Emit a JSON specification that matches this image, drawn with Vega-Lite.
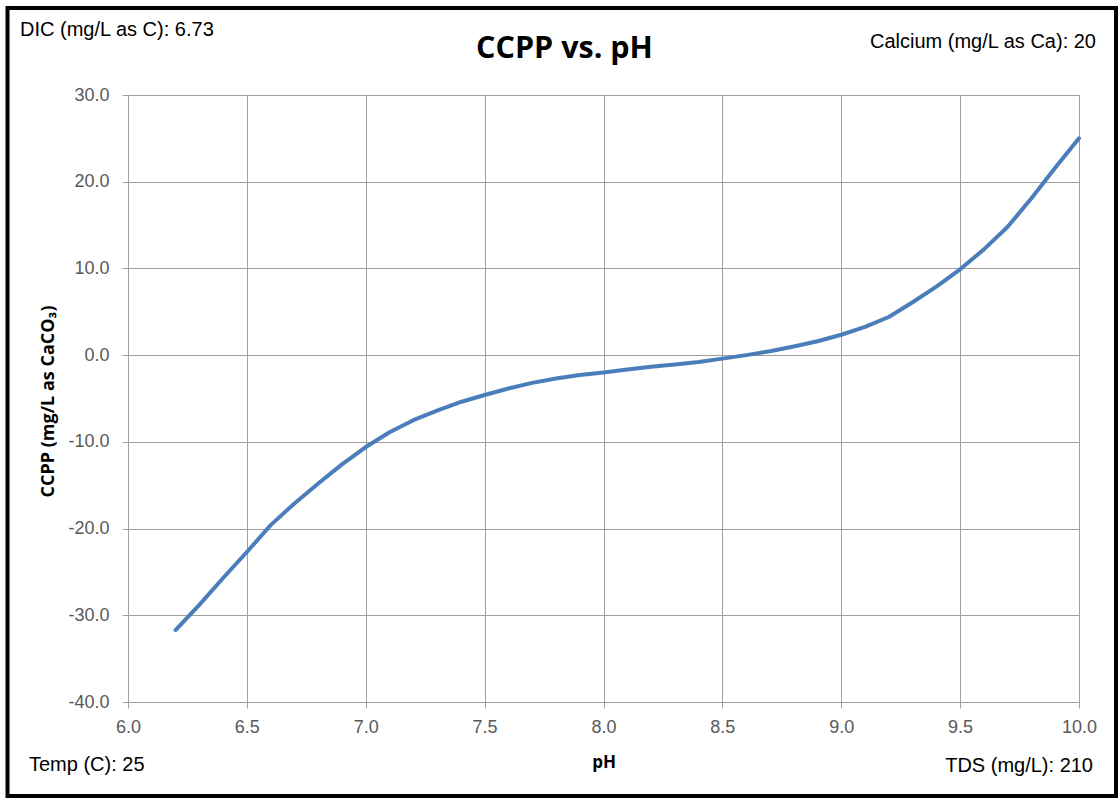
{
  "$schema": "https://vega.github.io/schema/vega-lite/v6.json",
  "width": 951,
  "height": 607,
  "autosize": {"type": "none"},
  "padding": {"left": 128, "top": 95, "right": 40, "bottom": 96},
  "background": "white",
  "title": {
    "text": "CCPP vs. pH",
    "font": "Open Sans",
    "fontSize": 30.5,
    "fontWeight": "bold",
    "color": "#000000",
    "anchor": "middle",
    "frame": "group",
    "dx": -39,
    "baseline": "alphabetic",
    "offset": -83
  },
  "config": {
    "view": {"stroke": null},
    "axis": {
      "gridColor": "#a0a0a0",
      "gridWidth": 1,
      "gridOpacity": 1,
      "domainColor": "#a0a0a0",
      "domainWidth": 1,
      "tickColor": "#a0a0a0",
      "tickSize": 6,
      "labelFont": "Liberation Sans",
      "labelFontSize": 18,
      "labelColor": "#595959",
      "titleFont": "Open Sans",
      "titleFontWeight": "bold",
      "titleColor": "#000000"
    }
  },
  "data": {
    "values": [
      {"pH": 6.2, "CCPP": -31.7},
      {"pH": 6.3, "CCPP": -28.8},
      {"pH": 6.4, "CCPP": -25.7},
      {"pH": 6.5, "CCPP": -22.7},
      {"pH": 6.6, "CCPP": -19.6},
      {"pH": 6.7, "CCPP": -17.1},
      {"pH": 6.8, "CCPP": -14.8},
      {"pH": 6.9, "CCPP": -12.6},
      {"pH": 7.0, "CCPP": -10.6},
      {"pH": 7.1, "CCPP": -8.9},
      {"pH": 7.2, "CCPP": -7.5},
      {"pH": 7.3, "CCPP": -6.4},
      {"pH": 7.4, "CCPP": -5.4},
      {"pH": 7.5, "CCPP": -4.6},
      {"pH": 7.6, "CCPP": -3.85},
      {"pH": 7.7, "CCPP": -3.2},
      {"pH": 7.8, "CCPP": -2.7},
      {"pH": 7.9, "CCPP": -2.3},
      {"pH": 8.0, "CCPP": -2.0},
      {"pH": 8.1, "CCPP": -1.65},
      {"pH": 8.2, "CCPP": -1.35},
      {"pH": 8.3, "CCPP": -1.07},
      {"pH": 8.4, "CCPP": -0.8},
      {"pH": 8.5, "CCPP": -0.4},
      {"pH": 8.6, "CCPP": 0.0},
      {"pH": 8.7, "CCPP": 0.45},
      {"pH": 8.8, "CCPP": 1.0},
      {"pH": 8.9, "CCPP": 1.6},
      {"pH": 9.0, "CCPP": 2.35},
      {"pH": 9.1, "CCPP": 3.25},
      {"pH": 9.2, "CCPP": 4.4},
      {"pH": 9.3, "CCPP": 6.1},
      {"pH": 9.4, "CCPP": 7.9},
      {"pH": 9.5, "CCPP": 9.9},
      {"pH": 9.6, "CCPP": 12.2},
      {"pH": 9.7, "CCPP": 14.8},
      {"pH": 9.8, "CCPP": 18.1},
      {"pH": 9.9, "CCPP": 21.6},
      {"pH": 10.0, "CCPP": 25.0}
    ]
  },
  "layer": [
    {
      "mark": {"type": "line", "color": "#4A7EBB", "strokeWidth": 4, "strokeCap": "round", "strokeJoin": "round"},
      "encoding": {
        "x": {
          "field": "pH",
          "type": "quantitative",
          "scale": {"domain": [6, 10], "nice": false, "zero": false},
          "axis": {
            "title": "pH",
            "titleFontSize": 17,
            "titleX": 475.5,
            "titleY": 65,
            "titleBaseline": "alphabetic",
            "titleAlign": "center",
            "values": [6, 6.5, 7, 7.5, 8, 8.5, 9, 9.5, 10],
            "format": ".1f",
            "labelPadding": 10,
            "labelFlush": false
          }
        },
        "y": {
          "field": "CCPP",
          "type": "quantitative",
          "scale": {"domain": [-40, 30], "nice": false, "zero": false},
          "axis": {
            "title": "CCPP (mg/L as CaCO₃)",
            "titleFontSize": 18,
            "titleX": -75,
            "titleY": 306,
            "titleAngle": 270,
            "titleBaseline": "alphabetic",
            "titleAlign": "center",
            "values": [-40, -30, -20, -10, 0, 10, 20, 30],
            "labelExpr": "replace(format(datum.value, '.1f'), '−', '-')",
            "labelPadding": 13
          }
        }
      }
    },
    {
      "data": {"values": [{"frame": "border"}]},
      "mark": {"type": "rect", "fill": null, "filled": false, "stroke": "#000000", "strokeWidth": 4},
      "encoding": {
        "x": {"datum": 5.4932, "type": "quantitative"},
        "x2": {"datum": 10.1556},
        "y": {"datum": 40.033, "type": "quantitative"},
        "y2": {"datum": -50.84}
      }
    },
    {
      "data": {"values": [{"label": "DIC (mg/L as C): 6.73"}]},
      "mark": {"type": "text", "font": "Liberation Sans", "fontSize": 20, "color": "#000000", "align": "left", "baseline": "alphabetic"},
      "encoding": {
        "x": {"datum": 5.5457, "type": "quantitative"},
        "y": {"datum": 36.8, "type": "quantitative"},
        "text": {"field": "label"}
      }
    },
    {
      "data": {"values": [{"label": "Calcium (mg/L as Ca): 20"}]},
      "mark": {"type": "text", "font": "Liberation Sans", "fontSize": 20, "color": "#000000", "align": "right", "baseline": "alphabetic"},
      "encoding": {
        "x": {"datum": 10.0715, "type": "quantitative"},
        "y": {"datum": 35.42, "type": "quantitative"},
        "text": {"field": "label"}
      }
    },
    {
      "data": {"values": [{"label": "Temp (C): 25"}]},
      "mark": {"type": "text", "font": "Liberation Sans", "fontSize": 20, "color": "#000000", "align": "left", "baseline": "alphabetic"},
      "encoding": {
        "x": {"datum": 5.5836, "type": "quantitative"},
        "y": {"datum": -47.96, "type": "quantitative"},
        "text": {"field": "label"}
      }
    },
    {
      "data": {"values": [{"label": "TDS (mg/L): 210"}]},
      "mark": {"type": "text", "font": "Liberation Sans", "fontSize": 20, "color": "#000000", "align": "right", "baseline": "alphabetic"},
      "encoding": {
        "x": {"datum": 10.0589, "type": "quantitative"},
        "y": {"datum": -48.07, "type": "quantitative"},
        "text": {"field": "label"}
      }
    }
  ]
}
